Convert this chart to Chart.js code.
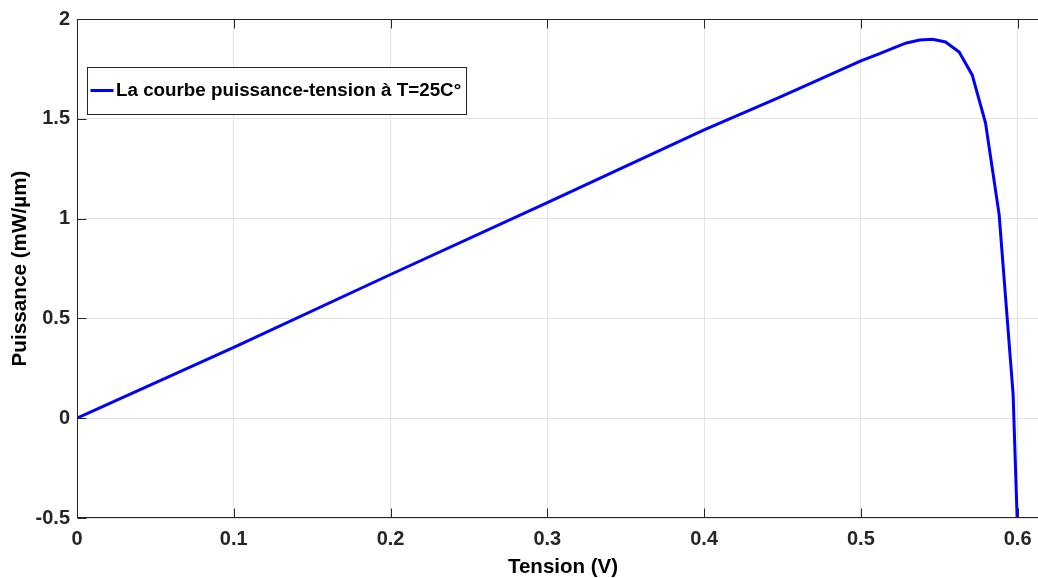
<!DOCTYPE html>
<html>
<head>
<meta charset="utf-8">
<script src="https://cdn.jsdelivr.net/npm/chart.js@4.4.1/dist/chart.umd.min.js"></script>
<style>
  html, body { margin: 0; padding: 0; background: #fff; overflow: hidden; }
  #wrap { width: 1050px; height: 578px; position: relative; }
</style>
</head>
<body>
<div id="wrap"><canvas id="chart"></canvas></div>
<script>
const tension   = [0, 0.1, 0.2, 0.3, 0.4, 0.448, 0.5, 0.512, 0.521, 0.529, 0.5376, 0.5457, 0.554, 0.5627, 0.571, 0.5795, 0.5882, 0.5971, 0.6057];
const puissance = [0, 0.355, 0.72, 1.08, 1.445, 1.607, 1.79, 1.827, 1.855, 1.88, 1.895, 1.898, 1.885, 1.835, 1.72, 1.48, 1.02, 0.12, -1.95];
const xTicks = [0, 0.1, 0.2, 0.3, 0.4, 0.5, 0.6];
const yTicks = [-0.5, 0, 0.5, 1, 1.5, 2];
const serieLabel = 'La courbe puissance-tension à T=25C°';
const xTitle = 'Tension (V)';
const yTitle = 'Puissance (mW/µm)';

const FONT = '"Liberation Sans", Arial, Helvetica, sans-serif';
const INK = '#262626';

// cadre façon matlab + graduations vers l'intérieur
const axesBox = {
    id: 'axesBox',
    afterDatasetsDraw(chart) {
        const { ctx, chartArea: a, scales: { x, y } } = chart;
        const L = Math.round(a.left) + 0.5, R = Math.round(a.right) - 0.5;
        const T = Math.round(a.top) + 0.5, B = Math.round(a.bottom) - 0.5;
        ctx.save();
        ctx.strokeStyle = INK;
        ctx.lineWidth = 1;
        ctx.strokeRect(L, T, R - L, B - T);
        ctx.beginPath();
        x.ticks.forEach(t => {
            const px = Math.round(x.getPixelForValue(t.value)) + 0.5;
            ctx.moveTo(px, B); ctx.lineTo(px, B - 9);
            ctx.moveTo(px, T); ctx.lineTo(px, T + 9);
        });
        y.ticks.forEach(t => {
            const py = Math.round(y.getPixelForValue(t.value)) + 0.5;
            ctx.moveTo(L, py); ctx.lineTo(L + 9, py);
            ctx.moveTo(R, py); ctx.lineTo(R - 9, py);
        });
        ctx.stroke();
        ctx.restore();
    }
};

const legendBox = {
    id: 'legendBox',
    afterDraw(chart) {
        const { ctx, chartArea: a } = chart;
        const ds = chart.data.datasets[0];
        const bx = Math.round(a.left) + 10.5, by = Math.round(a.top) + 48.5;
        const bw = 379, bh = 47;
        ctx.save();
        ctx.fillStyle = '#ffffff';
        ctx.fillRect(bx, by, bw, bh);
        ctx.strokeStyle = INK;
        ctx.lineWidth = 1;
        ctx.strokeRect(bx, by, bw, bh);
        ctx.beginPath();
        ctx.strokeStyle = ds.borderColor;
        ctx.lineWidth = ds.borderWidth;
        ctx.moveTo(bx + 3, by + 23);
        ctx.lineTo(bx + 26, by + 23);
        ctx.stroke();
        ctx.fillStyle = '#000000';
        ctx.font = 'bold 18.8px ' + FONT;
        ctx.textBaseline = 'middle';
        ctx.textAlign = 'left';
        ctx.fillText(ds.label, bx + 28.5, by + 23.5);
        ctx.restore();
    }
};

new Chart(document.getElementById('chart'), {
    type: 'line',
    data: {
        datasets: [{
            label: serieLabel,
            data: tension.map((v, i) => ({ x: v, y: puissance[i] })),
            borderColor: '#0000ff',
            borderWidth: 3,
            pointRadius: 0,
            tension: 0,
            fill: false
        }]
    },
    options: {
        responsive: true,
        maintainAspectRatio: false,
        animation: false,
        layout: { padding: { top: 18, right: 1, bottom: 0, left: 0 } },
        plugins: { legend: { display: false }, tooltip: { enabled: false } },
        scales: {
            x: {
                type: 'linear',
                min: 0,
                max: 0.62,
                afterBuildTicks: s => { s.ticks = xTicks.map(v => ({ value: v })); },
                afterFit: s => { s.height = 60; },
                grid: { color: '#e3e3e3', drawTicks: false },
                border: { display: false },
                ticks: {
                    padding: 9,
                    maxRotation: 0,
                    color: INK,
                    font: { family: FONT, size: 20, weight: 'bold' },
                    callback: v => String(Math.round(v * 10) / 10)
                },
                title: {
                    display: true,
                    text: xTitle,
                    color: '#000000',
                    padding: { top: 0, bottom: 0 },
                    font: { family: FONT, size: 20.5, weight: 'bold', lineHeight: 1 }
                }
            },
            y: {
                min: -0.5,
                max: 2,
                afterBuildTicks: s => { s.ticks = yTicks.map(v => ({ value: v })); },
                afterFit: s => { s.width = 77; },
                grid: { color: '#e3e3e3', drawTicks: false },
                border: { display: false },
                ticks: {
                    padding: 7,
                    color: INK,
                    font: { family: FONT, size: 20, weight: 'bold' },
                    callback: v => String(v)
                },
                title: {
                    display: true,
                    text: yTitle,
                    color: '#000000',
                    padding: { top: 9.5, bottom: 0 },
                    font: { family: FONT, size: 20.7, weight: 'bold', lineHeight: 1 }
                }
            }
        }
    },
    plugins: [axesBox, legendBox]
});
</script>
</body>
</html>
